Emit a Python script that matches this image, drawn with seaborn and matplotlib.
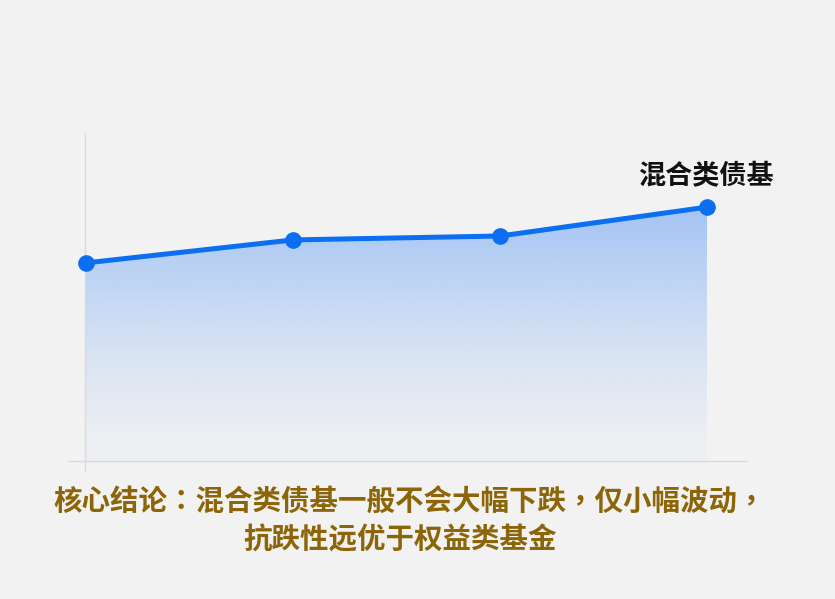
import numpy as np
import pandas as pd
import matplotlib
matplotlib.use("Agg")
import matplotlib.pyplot as plt
import seaborn as sns

# ---- data ----
periods = ["P1", "P2", "P3", "P4"]
values = [60.4, 67.4, 68.6, 77.4]
series_label = "混合类债基"
conclusion_line1 = "核心结论：混合类债基一般不会大幅下跌，仅小幅波动，"
conclusion_line2 = "抗跌性远优于权益类基金"

sns.set_theme(style="white")
plt.rcParams['font.family'] = ['Noto Sans CJK SC', 'DejaVu Sans']

W, H = 835, 599
fig = plt.figure(figsize=(W / 100, H / 100), dpi=100)
bg = "#F2F2F2"
fig.patch.set_facecolor(bg)

# axes covering pixel x 60..760, y 125..475
ax = fig.add_axes([60 / W, 1 - 475 / H, 700 / W, 350 / H])
ax.set_facecolor("none")

df = pd.DataFrame({"x": np.arange(len(periods)), "v": values})
line_color = "#0B6FF0"

xmin, xmax = -26 / 207, 674 / 207
ymin, ymax = -14 / 3.28, 336 / 3.28
ax.set_xlim(xmin, xmax)
ax.set_ylim(ymin, ymax)

# gradient fill under the line
poly = ax.fill_between(df["x"], df["v"], 0, color="none", lw=0)
grad = np.linspace(0, 1, 256).reshape(-1, 1)
top_rgb = np.array([145, 186, 245]) / 255
rgba = np.zeros((256, 1, 4))
rgba[..., :3] = top_rgb
rgba[..., 3] = (0.04 + 0.78 * grad[:, 0] ** 1.4).reshape(-1, 1)
top_v = max(values)
im = ax.imshow(rgba, extent=[df["x"].min(), df["x"].max(), 0, top_v],
               origin="lower", aspect="auto", zorder=1, interpolation="bilinear")
path = poly.get_paths()[0]
im.set_clip_path(path, transform=ax.transData)
ax.set_xlim(xmin, xmax)
ax.set_ylim(ymin, ymax)

# axis lines
ax.plot([-1.5 / 207, -1.5 / 207], [-10 / 3.28, 100], color="#DADADA", lw=1, zorder=0.5)
ax.plot([-18 / 207, 661 / 207], [0, 0], color="#DADADA", lw=1, zorder=0.5)

sns.lineplot(data=df, x="x", y="v", ax=ax, color=line_color, lw=3.6,
             marker="o", markersize=12, markeredgewidth=0, zorder=3)

ax.annotate(series_label, xy=(df["x"].iloc[-1], values[-1]), xytext=(-1, 22),
            textcoords="offset points", ha="center", va="center",
            fontsize=19.5, fontweight="bold", color="#111111")

ax.axis("off")

gold = "#8C6508"
tfam = ['Noto Sans CJK TC', 'DejaVu Sans']
fig.text(410 / W, 1 - 503 / H, conclusion_line1, ha="center", va="center",
         fontsize=20.5, fontweight="bold", color=gold, family=tfam)
fig.text(400 / W, 1 - 540 / H, conclusion_line2, ha="center", va="center",
         fontsize=20.5, fontweight="bold", color=gold, family=tfam)

fig.savefig("out.png", dpi=100, facecolor=bg)
